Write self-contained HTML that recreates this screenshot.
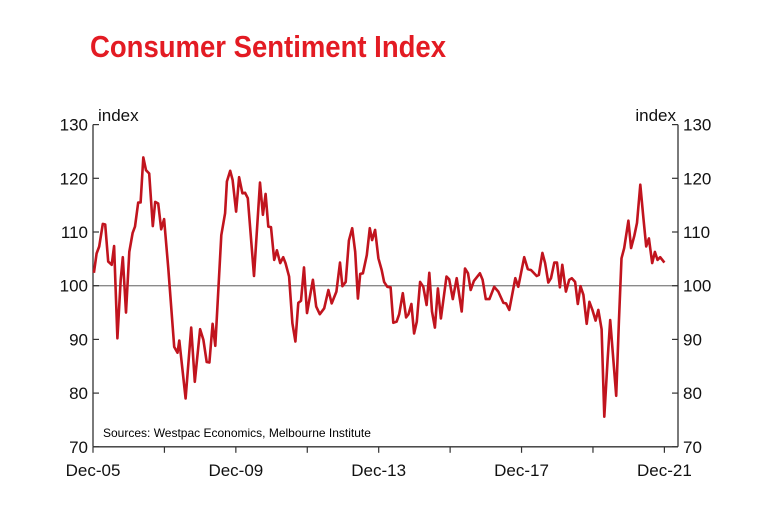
<!DOCTYPE html>
<html><head><meta charset="utf-8"><style>
body{margin:0;background:#fff;width:764px;height:510px;overflow:hidden;font-family:"Liberation Sans",sans-serif;}
</style></head><body>
<svg width="764" height="510">
<text x="90" y="57" font-family="Liberation Sans Narrow, Liberation Sans, sans-serif" font-weight="bold" font-size="31" fill="#e31b23" textLength="356" lengthAdjust="spacingAndGlyphs">Consumer Sentiment Index</text>
<g id="axes"></g>
<path id="line" fill="none" stroke="#c1141e" stroke-width="2.6" stroke-linejoin="round"/>
<text x="103" y="437" font-size="12" fill="#000">Sources: Westpac Economics, Melbourne Institute</text>
</svg>
<script>
const months=[0.3,1.2,2.1,3.3,4.1,5.1,6.3,7.1,8.2,9.3,10,11.1,12.2,13.3,14.1,15.2,16,16.9,17.8,18.9,20.1,20.9,21.9,22.9,23.9,25.3,27.3,28.4,29,31.1,33,34.2,36,37.1,38.2,39.1,40.2,41.1,43.1,44.4,45,46.1,46.9,48.1,49.1,50.2,51.1,52,54.1,56.1,57.1,58,58.9,59.8,60.9,61.8,62.9,63.9,64.7,65.9,67,68,69,69.9,70.9,71.9,73.9,75,76.2,77.7,79.1,80.2,81.8,83,83.8,84.9,86,87.1,88.1,89,89.8,90.7,92,93,93.8,94.8,95.9,97,97.8,98.9,100,100.9,102,102.9,104.1,105.2,106,107,107.9,108.8,109.9,111,112.1,113,113.9,114.9,115.9,116.9,118.8,119.7,120.9,122.2,123.9,125,126,126.9,128,130,130.9,132,133.2,134.8,136.2,137.9,138.8,139.9,141.9,142.9,144.9,146.1,147.2,149.1,149.8,151,151.9,153,153.9,155,155.9,156.9,157.7,158.9,160,160.9,162,162.9,163.8,164.8,165.9,166.8,167.8,168.9,169.8,170.9,171.8,172.9,173.8,175.8,176.7,177.6,178.5,179.9,180.8,181.9,182.8,183.9,184.9,185.9,186.8,187.9,188.8,189.7,190.6,192];
const values=[102.4,106.0,107.3,111.5,111.4,104.5,103.9,107.4,90.2,101.1,105.3,95.0,106.3,109.8,111,115.5,115.5,123.9,121.5,120.9,111.1,115.6,115.3,110.5,112.4,103.2,88.6,87.5,89.8,79.0,92.2,82.1,91.9,89.9,85.8,85.7,92.9,88.8,109.4,113.5,119.4,121.4,119.7,113.8,120.2,117.2,117.3,116.3,101.8,119.2,113.2,117.1,111,110.9,104.8,106.6,104.2,105.3,104.2,101.7,93,89.6,96.8,97.2,103.4,94.9,101.1,96.1,94.7,95.8,99.2,96.7,98.9,104.3,99.9,100.7,108.4,110.7,106.3,97.6,102.2,102.3,105.7,110.7,108.5,110.4,105.1,102.9,100.7,99.8,99.7,93.1,93.3,94.7,98.6,94.1,94.7,96.6,91.1,93.3,100.7,99.8,96.4,102.4,95.2,92.2,99.5,93.9,101.7,101.2,97.5,101.4,95.2,103.2,102.3,99.2,100.9,102.3,101.1,97.5,97.5,99.8,98.9,96.8,96.7,95.5,101.4,99.8,105.3,103.1,102.9,101.8,102,106.1,104.2,100.6,101.4,104.3,104.3,99.7,103.9,98.9,101.1,101.4,100.7,96.6,99.9,98.3,92.9,97,95.5,93.5,95.5,91.9,75.6,86.2,93.6,79.5,93.3,105.1,107,112.1,107,109.3,111.7,118.8,112.8,107.3,108.8,104.2,106.3,104.8,105.3,104.3];
const yTicks=[70,80,90,100,110,120,130];
const xTickLabels=["Dec-05","Dec-09","Dec-13","Dec-17","Dec-21"];
const X0=93,X1=678,PXM=2.976,Y100=285.7,PXU=5.37;
function xs(m){return X0+m*PXM;}
function ys(v){return Y100-(v-100)*PXU;}
const NS="http://www.w3.org/2000/svg";
const g=document.getElementById('axes');
function mk(t,a,txt){const e=document.createElementNS(NS,t);for(const k in a)e.setAttribute(k,a[k]);if(txt!==undefined)e.textContent=txt;g.appendChild(e);return e;}
const bot=ys(70);
let e;
e=mk('line',{x1:X0,y1:ys(100),x2:X1,y2:ys(100),stroke:'#8a8a8a','stroke-width':1.3});


e=mk('line',{x1:X0,y1:ys(130),x2:X0,y2:bot,stroke:'#333','stroke-width':1.3});


e=mk('line',{x1:X1,y1:ys(130),x2:X1,y2:bot,stroke:'#333','stroke-width':1.3});


e=mk('line',{x1:X0,y1:bot,x2:X1,y2:bot,stroke:'#333','stroke-width':1.3});


yTicks.forEach(v=>{const y=ys(v);
 mk('line',{x1:X0,y1:y,x2:X0+6,y2:y,stroke:'#333','stroke-width':1.2});
 mk('line',{x1:X1-6,y1:y,x2:X1,y2:y,stroke:'#333','stroke-width':1.2});
 let t=mk('text',{x:88,y:y+6,'font-size':17,'text-anchor':'end',fill:'#111'},String(v));
 
 
 t=mk('text',{x:683,y:y+6,'font-size':17,'text-anchor':'start',fill:'#111'},String(v));
 
 
});
for(let i=0;i<=8;i++){const x=xs(i*24);mk('line',{x1:x,y1:bot,x2:x,y2:bot+6,stroke:'#333','stroke-width':1.2});}
xTickLabels.forEach((l,i)=>{const t=mk('text',{x:xs(i*48),y:476,'font-size':17,'text-anchor':'middle',fill:'#111'},l);
 
 });
e=mk('text',{x:98,y:121,'font-size':17,fill:'#111'},'index');


e=mk('text',{x:676,y:121,'font-size':17,'text-anchor':'end',fill:'#111'},'index');


document.getElementById('line').setAttribute('d',months.map((m,i)=>(i?'L':'M')+xs(m).toFixed(1)+' '+ys(values[i]).toFixed(1)).join(' '));
</script>
</body></html>
